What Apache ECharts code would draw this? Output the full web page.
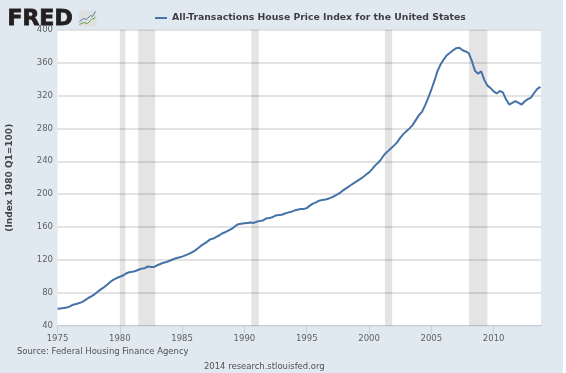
<!DOCTYPE html>
<html><head><meta charset="utf-8">
<style>html,body{margin:0;padding:0;background:#fff}#c{width:563px;height:373px}</style>
<script src="https://cdn.jsdelivr.net/npm/echarts@6/dist/echarts.min.js"></script>
</head><body><div id="c"></div>
<script>
const seriesName = 'All-Transactions House Price Index for the United States';
const startYear = 1975;
const indexValues = [
60.5,61,61.5,62, 63.5,65.5,66.5,67.5, 69,71.5,74,76, 78.5,81.5,84.5,87,
90,93.5,96,98, 99.5,101,103.5,105, 105.5,106.5,108,109.5, 110,112,111.5,111.5,
113.5,115,116.5,117.5, 119,120.5,122,123, 124,125.5,127,129, 131,134,137,139.5,
142,145,146,148, 150,152.5,154,156, 158,161,163.5,164, 164.5,165,165.5,165,
166.5,167.5,168,170.5, 171,172,174,174.5, 175,176.5,177.5,178.5, 180,181,182,182,
183,186,188.5,190, 192,193,193.5,194.5, 196,198,200,202.5, 205.5,208,210.5,213,
215.5,218,220.5,223.5, 226.5,230.5,235,238.5, 243,248.5,252,255.5, 259,263,268.5,273,
276.5,280,284,290, 296,300,308,317, 327,338,350,358, 364,369,372,375,
377.5,378,375,373.5, 371.5,362,350,346.5, 349.5,339,332,329, 325,322.5,325.5,323.5,
315,309,311,313, 311,309,313,315.5, 317.5,323,328,330.5];
const recessionStart = [1980.0, 1981.48, 1990.56, 2001.27, 2008.02];
const recessionEnd   = [1980.45, 1982.84, 1991.15, 2001.86, 2009.5];
const xTicks = [1975,1980,1985,1990,1995,2000,2005,2010];
const yTicks = [40,80,120,160,200,240,280,320,360,400];
const xMax = 2013.8;
const lineData = indexValues.map((v,i)=>[startYear+i/4, v]);
const bands = recessionStart.map((s,i)=>[{xAxis:s},{xAxis:recessionEnd[i]}]);

const chart = echarts.init(document.getElementById('c'), null, {renderer:'canvas'});
chart.setOption({
  backgroundColor:'#E1E9F0',
  animation:false,
  grid:{left:57.5,right:22,top:29.7,bottom:47.3,show:true,backgroundColor:'#fff',borderWidth:0,outerBoundsMode:'none'},
  legend:{left:150,top:8.5,icon:'rect',itemWidth:12,itemHeight:2,itemGap:4,
    textStyle:{color:'#3E3E43',fontWeight:'bold',fontSize:9.3,fontFamily:'DejaVu Sans'},
    data:[seriesName]},
  xAxis:{type:'value',min:startYear,max:xMax,
    axisLine:{show:true,lineStyle:{color:'#C0D0E0',width:1}},
    axisTick:{show:true,length:8,customValues:xTicks,lineStyle:{color:'#C0D0E0'}},
    axisLabel:{customValues:xTicks,color:'#606060',fontSize:8.5,fontFamily:'DejaVu Sans',margin:9,formatter:v=>String(v)},
    splitLine:{show:false}},
  yAxis:{type:'value',min:40,max:400,interval:40,
    name:'(Index 1980 Q1=100)',nameLocation:'middle',nameRotate:90,nameGap:43,
    nameTextStyle:{color:'#444444',fontWeight:'bold',fontSize:9,fontFamily:'DejaVu Sans'},
    axisLine:{show:false},axisTick:{show:false},
    axisLabel:{customValues:yTicks,color:'#606060',fontSize:8.5,fontFamily:'DejaVu Sans',margin:4.5},
    splitLine:{show:true,lineStyle:{color:'#DADADA',width:1.5}}},
  series:[{name:seriesName,type:'line',data:lineData,showSymbol:false,symbol:'none',
    lineStyle:{color:'#4572A7',width:2},itemStyle:{color:'#4572A7'},
    markArea:{silent:true,itemStyle:{color:'rgba(0,0,0,0.105)'},data:bands}}],
  graphic:[
    {type:'text',left:7,top:8,style:{text:'FRED',font:'bold 22px "DejaVu Sans"',fill:'#231F20',stroke:'#231F20',lineWidth:0.8}},
    {type:'group',left:77,top:9,children:[
      {type:'rect',shape:{x:0,y:0,width:18,height:16,r:1},style:{fill:'#DDE0DF'}},
      {type:'polyline',shape:{points:[[1,11],[5,8],[8,9],[12,5],[14,6],[17,1]]},style:{stroke:'#55809F',lineWidth:1,fill:'none'}},
      {type:'polyline',shape:{points:[[1,14],[5,12],[9,13],[13,9],[17,7]]},style:{stroke:'#6F9E45',lineWidth:1,fill:'none'}}
    ]},
    {type:'text',left:17,top:348,style:{text:'Source: Federal Housing Finance Agency',font:'8.45px "DejaVu Sans"',fill:'#505050'}},
    {type:'text',left:204,top:363,style:{text:'2014 research.stlouisfed.org',font:'8.45px "DejaVu Sans"',fill:'#505050'}}
  ]
});
</script></body></html>
